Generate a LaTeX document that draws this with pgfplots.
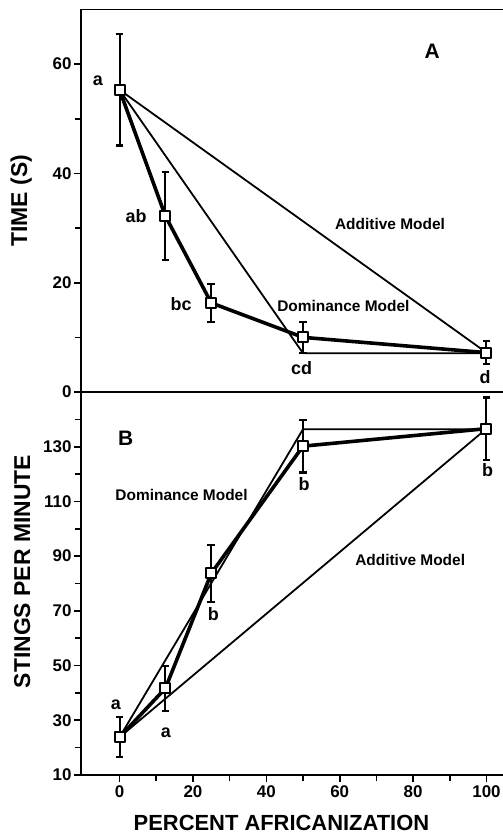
\documentclass[border=0pt]{standalone}
\usepackage{fontspec}
\setmainfont{Liberation Sans}
\usepackage{pgfplots}
\usepackage{pgfplotstable}
\pgfplotsset{compat=1.18}
\pgfplotstableread{
x y e
0 55.3 10.2
12.5 32.2 8.1
25 16.3 3.5
50 10.0 2.8
100 7.2 2.1
}\timedata
\pgfplotstableread{
x y e
0 23.8 7.3
12.5 41.7 8.2
25 83.7 10.4
50 130.2 9.6
100 136.6 11.4
}\stingdata
\tikzset{
  lab/.style={font=\bfseries\fontsize{18}{18}\selectfont},
  mdl/.style={font=\bfseries\fontsize{15.5}{15.5}\selectfont},
  pan/.style={font=\bfseries\fontsize{21}{21}\selectfont},
}
\begin{document}
\begin{tikzpicture}
\pgfplotsset{
  common/.style={
    scale only axis, width=422bp,
    xmin=-10.5, xmax=104.5,
    axis x line*=box, axis y line*=left,
    axis line style={-, line width=1.9bp},
    tick align=outside, major tick length=7bp, minor tick length=6bp,
    every tick/.style={black, line width=1.6bp},
    ticklabel style={font=\bfseries\fontsize{17}{17}\selectfont},
    yticklabel style={xshift=1bp},
    /pgf/number format/assume math mode=true,
    clip=false,
  },
  model/.style={black, line width=1.8bp, line join=round},
  obs/.style={black, line width=3.6bp, line join=round, mark=square*, mark size=5bp,
    mark options={fill=white, line width=2bp},
    error bars/.cd, y dir=both, y explicit,
    error bar style={line width=2bp},
    error mark options={rotate=90, mark size=3.8bp, line width=2.2bp}},
}
% ---------- Panel A ----------
\begin{axis}[common, at={(0bp,383bp)}, anchor=south west, height=382.5bp,
  ymin=0, ymax=70, ytick={0,20,40,60}, minor ytick={10,30,50},
  xtick=\empty,
  ylabel={TIME (S)},
  every axis y label/.style={at={(axis description cs:-0.142,0.5)}, rotate=90, anchor=center,
    font=\bfseries\fontsize{23}{23}\selectfont},
]
\addplot[model] coordinates {(0,55.3) (100,7.2)};
\addplot[model] coordinates {(0,55.3) (50,7.1) (100,7.1)};
\addplot[obs] table[x=x, y=y, y error=e] {\timedata};
\node[lab] at (axis cs:-5.9,56.9) {a};
\node[lab] at (axis cs:4.5,32.1) {ab};
\node[lab] at (axis cs:16.8,16.0) {bc};
\node[lab] at (axis cs:49.6,4.3) {cd};
\node[lab] at (axis cs:99.6,2.7) {d};
\node[pan] at (axis cs:85.2,62.4) {A};
\node[mdl] at (axis cs:73.7,30.8) {Additive Model};
\node[mdl] at (axis cs:61,15.7) {Dominance Model};
\end{axis}
% ---------- Panel B ----------
\begin{axis}[common, at={(0bp,0bp)}, anchor=south west, height=383bp,
  ymin=10, ymax=150, ytick={10,30,50,70,90,110,130}, minor ytick={20,40,60,80,100,120,140},
  xtick={0,20,40,60,80,100}, minor xtick={10,30,50,70,90}, xtick pos=left,
  ylabel={STINGS PER MINUTE},
  xlabel={PERCENT AFRICANIZATION},
  every axis y label/.style={at={(axis description cs:-0.139,0.531)}, rotate=90, anchor=center,
    font=\bfseries\fontsize{23}{23}\selectfont},
  every axis x label/.style={at={(axis description cs:0.475,0)}, anchor=base, yshift=-55bp,
    font=\bfseries\fontsize{22}{22}\selectfont},
]
\addplot[model] coordinates {(0,23.8) (100,136.6)};
\addplot[model] coordinates {(0,23.8) (50,136.4) (100,136.4)};
\addplot[obs] table[x=x, y=y, y error=e] {\stingdata};
\node[lab] at (axis cs:-1,35.6) {a};
\node[lab] at (axis cs:12.6,25.4) {a};
\node[lab] at (axis cs:25.6,69) {b};
\node[lab] at (axis cs:50.3,116.5) {b};
\node[lab] at (axis cs:100.3,121.4) {b};
\node[pan] at (axis cs:1.7,133) {B};
\node[mdl] at (axis cs:16.9,112.3) {Dominance Model};
\node[mdl] at (axis cs:79.2,88.5) {Additive Model};
\end{axis}
\pgfresetboundingbox
\path[use as bounding box] (-81bp,-60bp) rectangle (422bp,775bp);
\end{tikzpicture}
\end{document}
